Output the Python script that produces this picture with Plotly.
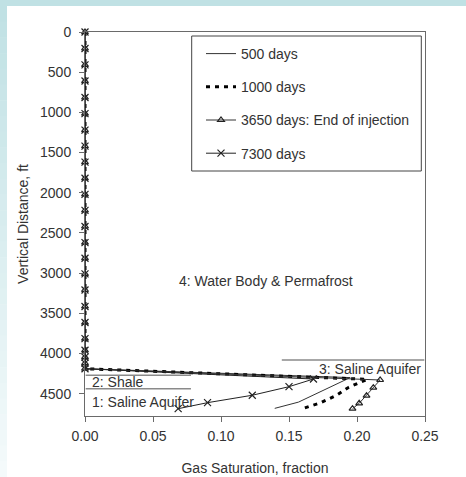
import plotly.graph_objects as go

# ---------------- data ----------------
# Upper section (gas saturation ~0 down to the base of the water body)
upper_depth = [0, 205, 410, 610, 815, 1015, 1220, 1420, 1620, 1820, 2020, 2220,
               2420, 2620, 2815, 3010, 3210, 3415, 3615, 3815, 3960, 4045, 4120, 4190]
upper_sat = [0.0] * len(upper_depth)

d500_depth = [4300, 4605, 4683]
d500_sat = [0.195, 0.157, 0.1395]

d1000_depth = [4321, 4420, 4520, 4615, 4680]
d1000_sat = [0.2075, 0.194, 0.185, 0.173, 0.161]

d3650_depth = [4330, 4425, 4525, 4620, 4687]
d3650_sat = [0.217, 0.212, 0.207, 0.2016, 0.1967]

d7300_depth = [4318, 4413, 4520, 4612, 4687]
d7300_sat = [0.168, 0.150, 0.123, 0.0901, 0.0685]

series_names = ["500 days", "1000 days", "3650 days: End of injection", "7300 days"]

# Layer boundary lines (depth, x start, x end) and labels
boundary_depths = [4080, 4271, 4438]
boundary_x0 = [0.1447, 0.0005, 0.0005]
boundary_x1 = [0.2495, 0.0779, 0.0779]

layer_labels = ["4: Water Body & Permafrost", "3: Saline Aquifer", "2: Shale", "1: Saline Aquifer"]
layer_label_x = [0.0673, 0.2487, 0.004, 0.004]
layer_label_y = [3097, 4196, 4351, 4607]
layer_label_anchor = ["left", "right", "left", "left"]

x_ticks = [0.0, 0.05, 0.10, 0.15, 0.20, 0.25]
y_ticks = [0, 500, 1000, 1500, 2000, 2500, 3000, 3500, 4000, 4500]

# ---------------- figure ----------------
W, H = 466, 477
ML, MR, MT, MB = 85, 41, 32, 61
PW, PH = W - ML - MR, H - MT - MB


def px_x(px):
    return (px - ML) / PW


def px_y(py):
    return (H - MB - py) / PH


FONT = "Arial, Liberation Sans, sans-serif"
TXT = "#333333"

fig = go.Figure()

fig.add_trace(go.Scatter(
    x=upper_sat + d500_sat, y=upper_depth + d500_depth, name=series_names[0],
    mode="lines", line=dict(color="#333333", width=1), legendgroup="a",
    cliponaxis=False))
fig.add_trace(go.Scatter(
    x=upper_sat + d1000_sat, y=upper_depth + d1000_depth, name=series_names[1],
    mode="lines", line=dict(color="#000000", width=3, dash="4px,5px"), legendgroup="b",
    cliponaxis=False))
fig.add_trace(go.Scatter(
    x=upper_sat + d3650_sat, y=upper_depth + d3650_depth, name=series_names[2],
    mode="lines+markers", line=dict(color="#333333", width=1),
    marker=dict(symbol="triangle-up-open", size=6, color="#222222", line=dict(width=1.2)),
    legendgroup="c", cliponaxis=False))
fig.add_trace(go.Scatter(
    x=upper_sat + d7300_sat, y=upper_depth + d7300_depth, name=series_names[3],
    mode="lines+markers", line=dict(color="#222222", width=1),
    marker=dict(symbol="x-thin", size=7, color="#222222", line=dict(width=1.2, color="#222222")),
    legendgroup="d", cliponaxis=False))

shapes = []
# background strips
shapes.append(dict(type="rect", xref="paper", yref="paper",
                   x0=px_x(0), x1=px_x(W), y0=px_y(0), y1=px_y(6),
                   fillcolor="#c0e1e4", line=dict(width=0), layer="below"))
n = 30
top_c = (0xc0, 0xe1, 0xe4)
bot_c = (0xf4, 0xfa, 0xfb)
for i in range(n):
    t = i / (n - 1)
    c = tuple(int(round(top_c[k] + (bot_c[k] - top_c[k]) * t)) for k in range(3))
    y0 = 6 + (H - 6) * i / n
    y1 = 6 + (H - 6) * (i + 1) / n + 0.5
    shapes.append(dict(type="rect", xref="paper", yref="paper",
                       x0=px_x(0), x1=px_x(7), y0=px_y(y0), y1=px_y(y1),
                       fillcolor="rgb(%d,%d,%d)" % c, line=dict(width=0), layer="below"))
# legend frame
shapes.append(dict(type="rect", xref="paper", yref="paper",
                   x0=px_x(191.7), x1=px_x(421.3), y0=px_y(36), y1=px_y(171),
                   line=dict(color="#444444", width=1), fillcolor="white", layer="below"))
# layer boundaries
for d, a, b in zip(boundary_depths, boundary_x0, boundary_x1):
    shapes.append(dict(type="line", xref="x", yref="y", x0=a, x1=b, y0=d, y1=d,
                       line=dict(color="#8a8a8a", width=1.5)))

annotations = []
for t, x, y, anc in zip(layer_labels, layer_label_x, layer_label_y, layer_label_anchor):
    annotations.append(dict(text=t, x=x, y=y, xref="x", yref="y", showarrow=False,
                            xanchor=anc, yanchor="middle",
                            font=dict(family=FONT, size=14, color=TXT)))

fig.update_layout(
    width=W, height=H,
    margin=dict(l=ML, r=MR, t=MT, b=MB, autoexpand=False),
    paper_bgcolor="white", plot_bgcolor="white",
    font=dict(family=FONT, size=14, color=TXT),
    shapes=shapes, annotations=annotations,
    showlegend=True,
    legend=dict(x=px_x(201), y=px_y(38), xanchor="left", yanchor="top",
                bgcolor="rgba(0,0,0,0)", borderwidth=0,
                traceorder="grouped", tracegroupgap=12,
                font=dict(family=FONT, size=14, color=TXT)),
    xaxis=dict(range=[0, 0.25], tickvals=x_ticks, tickformat=".2f",
               showgrid=False, zeroline=False, showline=True, mirror=True,
               linecolor="#6a6a6a", linewidth=1, ticks="outside", ticklen=5,
               tickcolor="#6a6a6a", ticklabelstandoff=2,
               title=dict(text="Gas Saturation, fraction", standoff=20,
                          font=dict(family=FONT, size=14, color=TXT))),
    yaxis=dict(range=[4778, 0], tickvals=y_ticks, showgrid=False, zeroline=False,
               showline=True, mirror=True, linecolor="#6a6a6a", linewidth=1,
               ticks="outside", ticklen=5, tickcolor="#6a6a6a", ticklabelstandoff=5,
               title=dict(text="Vertical Distance, ft", standoff=8,
                          font=dict(family=FONT, size=14, color=TXT))),
)

fig.write_html("out.html")
